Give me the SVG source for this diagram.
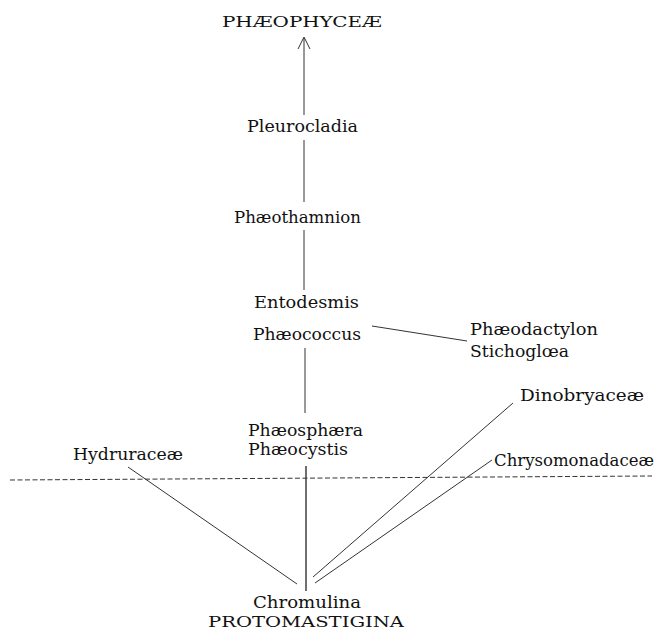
<svg xmlns="http://www.w3.org/2000/svg" width="663" height="630" viewBox="0 0 663 630">
<style>
.t{font-family:'DejaVu Serif','Liberation Serif',serif;font-size:16.5px;fill:#111}
.caps{font-size:15px}
.ln{stroke:#333;stroke-width:1;fill:none}
.thick{stroke-width:1.4}
.dash{stroke:#333;stroke-width:1;stroke-dasharray:5 2.5;fill:none}
</style>
<rect width="663" height="630" fill="#fff"/>
<g id="connectors">
<line class="ln" x1="304" y1="38" x2="304" y2="115"/>
<polyline class="ln" points="298,49 304,37 310,49"/>
<line class="ln" x1="304" y1="140" x2="304" y2="202"/>
<line class="ln" x1="304" y1="230" x2="304" y2="290"/>
<line class="ln" x1="372" y1="326" x2="467" y2="341"/>
<line class="ln" x1="305" y1="348" x2="305" y2="413"/>
<line class="ln thick" x1="306" y1="466" x2="306" y2="591"/>
<line class="ln" x1="128" y1="467" x2="297" y2="584"/>
<line class="ln" x1="513" y1="403" x2="313" y2="577"/>
<line class="ln" x1="492" y1="460" x2="315" y2="583"/>
<line class="dash" x1="10" y1="480" x2="652" y2="476"/>
</g>
<g id="phaeophyceae"><text class="t caps" x="222" y="27" textLength="160" lengthAdjust="spacingAndGlyphs">PHÆOPHYCEÆ</text></g>
<g id="pleurocladia"><text class="t" x="247" y="132" textLength="111" lengthAdjust="spacingAndGlyphs">Pleurocladia</text></g>
<g id="phaeothamnion"><text class="t" x="234" y="223" textLength="127" lengthAdjust="spacingAndGlyphs">Phæothamnion</text></g>
<g id="entodesmis"><text class="t" x="254" y="308" textLength="105" lengthAdjust="spacingAndGlyphs">Entodesmis</text></g>
<g id="phaeococcus"><text class="t" x="253" y="340" textLength="108" lengthAdjust="spacingAndGlyphs">Phæococcus</text></g>
<g id="phaeodactylon"><text class="t" x="470" y="335" textLength="128" lengthAdjust="spacingAndGlyphs">Phæodactylon</text><text class="t" x="470" y="357" textLength="99" lengthAdjust="spacingAndGlyphs">Stichoglœa</text></g>
<g id="phaeosphaera"><text class="t" x="248" y="436" textLength="115" lengthAdjust="spacingAndGlyphs">Phæosphæra</text><text class="t" x="248" y="455" textLength="100" lengthAdjust="spacingAndGlyphs">Phæocystis</text></g>
<g id="hydruraceae"><text class="t" x="73" y="460" textLength="110" lengthAdjust="spacingAndGlyphs">Hydruraceæ</text></g>
<g id="dinobryaceae"><text class="t" x="520" y="401" textLength="124" lengthAdjust="spacingAndGlyphs">Dinobryaceæ</text></g>
<g id="chrysomonadaceae"><text class="t" x="494" y="466" textLength="160" lengthAdjust="spacingAndGlyphs">Chrysomonadaceæ</text></g>
<g id="chromulina"><text class="t" x="253" y="608" textLength="108" lengthAdjust="spacingAndGlyphs">Chromulina</text><text class="t caps" x="208" y="627" textLength="196" lengthAdjust="spacingAndGlyphs">PROTOMASTIGINA</text></g>
</svg>
